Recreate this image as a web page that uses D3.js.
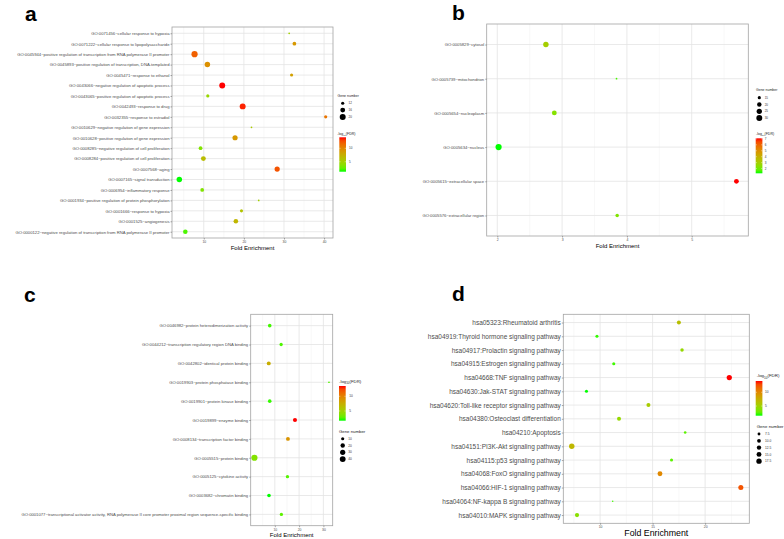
<!DOCTYPE html>
<html>
<head>
<meta charset="utf-8">
<script src="https://cdn.jsdelivr.net/npm/d3@7"></script>
<style>
body { margin: 0; background: #fff; }
svg { font-family: "Liberation Sans", Arial, sans-serif; }
</style>
</head>
<body>
<svg id="fig" width="784" height="539"></svg>
<script>
// enrichment bubble charts, four panels (BP, CC, MF, KEGG)

// panel a - biological process
var aTerms = [
    "GO:0071456~cellular response to hypoxia",
    "GO:0071222~cellular response to lipopolysaccharide",
    "GO:0045944~positive regulation of transcription from RNA polymerase II promoter",
    "GO:0045893~positive regulation of transcription, DNA-templated",
    "GO:0045471~response to ethanol",
    "GO:0043066~negative regulation of apoptotic process",
    "GO:0043065~positive regulation of apoptotic process",
    "GO:0042493~response to drug",
    "GO:0032355~response to estradiol",
    "GO:0010629~negative regulation of gene expression",
    "GO:0010628~positive regulation of gene expression",
    "GO:0008285~negative regulation of cell proliferation",
    "GO:0008284~positive regulation of cell proliferation",
    "GO:0007568~aging",
    "GO:0007165~signal transduction",
    "GO:0006954~inflammatory response",
    "GO:0001934~positive regulation of protein phosphorylation",
    "GO:0001666~response to hypoxia",
    "GO:0001525~angiogenesis",
    "GO:0000122~negative regulation of transcription from RNA polymerase II promoter"
];
var aFold = [31.3, 32.6, 7.7, 10.9, 31.9, 14.6, 11.0, 19.7, 40.4, 21.9, 17.8, 9.2, 9.9, 28.3, 3.9, 9.6, 23.7, 19.4, 18.0, 5.4];
var aCount = [11, 13, 21, 18, 12, 20, 12, 20, 12, 11, 17, 13, 16, 17, 18, 13, 11, 12, 15, 15];
var aLogFdr = [5.0, 9.0, 12.0, 9.5, 8.5, 14.1, 4.5, 13.8, 11.0, 5.5, 9.0, 3.5, 6.5, 12.5, 1.3, 3.5, 5.0, 6.0, 7.0, 2.0];
var aXTicks = [10, 20, 30, 40];
var aSizeBreaks = [12, 16, 20];
var aColorBreaks = [5, 10];

// panel b - cellular component
var bTerms = [
    "GO:0005829~cytosol",
    "GO:0005739~mitochondrion",
    "GO:0005654~nucleoplasm",
    "GO:0005634~nucleus",
    "GO:0005615~extracellular space",
    "GO:0005576~extracellular region"
];
var bFold = [2.75, 3.84, 2.88, 2.02, 5.69, 3.85];
var bCount = [26, 13, 22, 32, 22, 16];
var bLogFdr = [3.0, 1.5, 2.3, 1.2, 7.1, 2.2];
var bXTicks = [2, 3, 4, 5];
var bSizeBreaks = [15, 20, 25, 30];
var bColorBreaks = [2, 3, 4, 5, 6, 7];

// panel c - molecular function
var cTerms = [
    "GO:0046982~protein heterodimerization activity",
    "GO:0044212~transcription regulatory region DNA binding",
    "GO:0042802~identical protein binding",
    "GO:0019903~protein phosphatase binding",
    "GO:0019901~protein kinase binding",
    "GO:0019899~enzyme binding",
    "GO:0008134~transcription factor binding",
    "GO:0005515~protein binding",
    "GO:0005125~cytokine activity",
    "GO:0003682~chromatin binding",
    "GO:0001077~transcriptional activator activity, RNA polymerase II core promoter proximal region sequence-specific binding"
];
var cFold = [7.9, 12.6, 7.5, 32.3, 7.9, 18.3, 15.4, 1.6, 15.2, 7.6, 12.7];
var cCount = [13, 11, 16, 6, 13, 17, 15, 46, 11, 13, 11];
var cLogFdr = [2.2, 2.4, 7.5, 2.5, 2.0, 13.5, 9.0, 3.8, 2.5, 1.7, 2.7];
var cXTicks = [10, 20, 30];
var cSizeBreaks = [10, 20, 30, 40];
var cColorBreaks = [5, 10];

// panel d - KEGG pathways
var dTerms = [
    "hsa05323:Rheumatoid arthritis",
    "hsa04919:Thyroid hormone signaling pathway",
    "hsa04917:Prolactin signaling pathway",
    "hsa04915:Estrogen signaling pathway",
    "hsa04668:TNF signaling pathway",
    "hsa04630:Jak-STAT signaling pathway",
    "hsa04620:Toll-like receptor signaling pathway",
    "hsa04380:Osteoclast differentiation",
    "hsa04210:Apoptosis",
    "hsa04151:PI3K-Akt signaling pathway",
    "hsa04115:p53 signaling pathway",
    "hsa04068:FoxO signaling pathway",
    "hsa04066:HIF-1 signaling pathway",
    "hsa04064:NF-kappa B signaling pathway",
    "hsa04010:MAPK signaling pathway"
];
var dFold = [17.5, 9.7, 17.8, 11.3, 22.3, 8.7, 14.6, 11.8, 18.1, 7.3, 16.8, 15.7, 23.4, 11.2, 7.8];
var dCount = [11, 8, 9, 8, 17, 8, 11, 11, 7, 18, 8, 15, 16, 6, 12];
var dLogFdr = [6.5, 1.8, 4.5, 2.0, 14.1, 1.5, 5.5, 4.5, 2.5, 7.0, 2.5, 10.0, 12.5, 2.0, 4.0];
var dXTicks = [10, 15, 20];
var dSizeBreaks = [7.5, 10, 12.5, 15, 17.5];
var dColorBreaks = [5, 10];

var svg = d3.select("#fig");
var defs = svg.append("defs");

function drawPanel(p) {

    var g = svg.append("g");
    var box = p.box;

    // ggplot style 5% expansion of the continuous axis
    var ext = d3.extent(p.fold), pad = (ext[1] - ext[0]) * 0.05;
    var x = d3.scaleLinear().domain([ext[0] - pad, ext[1] + pad]).range([box[0], box[2]]);
    var y = d3.scalePoint().domain(p.terms).range([box[1], box[3]]).padding(0.6);

    var color = d3.scaleLinear()
        .domain(d3.extent(p.logFdr))
        .range(["#00ff00", "#ff0000"])
        .interpolate(d3.interpolateLab);

    var sNorm = d3.scaleLinear().domain(d3.extent(p.count)).range([0, 1]);
    var rScale = d3.scaleLinear().domain([0, 1]).range([p.rMax * 0.28, p.rMax]);
    var radius = function(v) { return rScale(Math.sqrt(Math.max(0, sNorm(v)))); };

    // minor breaks half way between majors
    var step = p.xTicks[1] - p.xTicks[0];
    var minor = [];
    for (var m = p.xTicks[0] - step / 2; m <= x.domain()[1]; m += step) {
        if (m >= x.domain()[0]) minor.push(m);
    }

    g.selectAll(".minor").data(minor).enter().append("line")
        .attr("x1", function(d) { return x(d); }).attr("x2", function(d) { return x(d); })
        .attr("y1", box[1]).attr("y2", box[3])
        .attr("stroke", "#f0f0f0").attr("stroke-width", 0.5);
    g.selectAll(".majorx").data(p.xTicks).enter().append("line")
        .attr("x1", function(d) { return x(d); }).attr("x2", function(d) { return x(d); })
        .attr("y1", box[1]).attr("y2", box[3])
        .attr("stroke", "#e3e3e3").attr("stroke-width", 0.8);
    g.selectAll(".majory").data(p.terms).enter().append("line")
        .attr("x1", box[0]).attr("x2", box[2])
        .attr("y1", function(d) { return y(d); }).attr("y2", function(d) { return y(d); })
        .attr("stroke", "#e3e3e3").attr("stroke-width", 0.8);

    // points
    var rows = p.terms.map(function(t, i) {
        return { term: t, fold: p.fold[i], count: p.count[i], fdr: p.logFdr[i] };
    });
    g.selectAll(".pt").data(rows).enter().append("circle")
        .attr("cx", function(d) { return x(d.fold); })
        .attr("cy", function(d) { return y(d.term); })
        .attr("r", function(d) { return radius(d.count); })
        .attr("fill", function(d) { return color(d.fdr); });

    g.append("rect")
        .attr("x", box[0]).attr("y", box[1])
        .attr("width", box[2] - box[0]).attr("height", box[3] - box[1])
        .attr("fill", "none").attr("stroke", "#a3a3a3").attr("stroke-width", 0.8);

    // axes
    var xAxis = g.append("g")
        .attr("transform", "translate(0," + box[3] + ")")
        .call(d3.axisBottom(x).tickValues(p.xTicks).tickFormat(function(d) { return d; })
            .tickSize(1.5).tickPadding(1.2));
    var yAxis = g.append("g")
        .attr("transform", "translate(" + box[0] + ",0)")
        .call(d3.axisLeft(y).tickSize(1.5).tickPadding(1));
    [xAxis, yAxis].forEach(function(a) {
        a.select(".domain").remove();
        a.attr("font-family", null);
        a.selectAll("line").attr("stroke", "#555").attr("stroke-width", 0.5);
        a.selectAll("text").attr("fill", "#4d4d4d");
    });
    xAxis.attr("font-size", p.tickFont);
    yAxis.attr("font-size", p.labelFont);

    g.append("text")
        .attr("x", (box[0] + box[2]) / 2).attr("y", p.titleY)
        .attr("text-anchor", "middle").attr("font-size", p.titleFont)
        .attr("fill", "#000")
        .text("Fold Enrichment");

    g.append("text")
        .attr("x", p.letter[0]).attr("y", p.letter[1])
        .attr("font-size", 21).attr("font-weight", "bold")
        .text(p.name);

    // size legend
    var S = p.sizeLegend;
    g.append("text").attr("x", S.x).attr("y", S.titleY)
        .attr("font-size", p.legFont).attr("fill", "#222").text("Gene number");
    p.sizeBreaks.forEach(function(b, i) {
        var cy = S.y0 + i * 6.8;
        g.append("circle").attr("cx", S.dotX).attr("cy", cy).attr("r", radius(b)).attr("fill", "#000");
        g.append("text").attr("x", S.labX).attr("y", cy).attr("dy", "0.35em")
            .attr("font-size", p.legLabFont).attr("fill", "#333")
            .text(p.sizeLabels ? p.sizeLabels[i] : b);
    });

    // colour bar
    var C = p.colorLegend;
    var t = g.append("text").attr("x", C.x).attr("y", C.titleY)
        .attr("font-size", p.legFont).attr("fill", "#222");
    t.append("tspan").text("-log");
    t.append("tspan").attr("font-size", p.legFont * 0.7).attr("dy", p.legFont * 0.3).text("10");
    t.append("tspan").attr("dy", -p.legFont * 0.3).text("(FDR)");

    var gid = "grad_" + p.name;
    var grad = defs.append("linearGradient").attr("id", gid)
        .attr("x1", 0).attr("y1", 1).attr("x2", 0).attr("y2", 0);
    d3.range(0, 1.0001, 0.1).forEach(function(f) {
        var dom = color.domain();
        grad.append("stop").attr("offset", f)
            .attr("stop-color", color(dom[0] + f * (dom[1] - dom[0])));
    });
    g.append("rect").attr("x", C.barX).attr("y", C.top)
        .attr("width", 6.7).attr("height", C.bottom - C.top)
        .attr("fill", "url(#" + gid + ")");
    var cy = d3.scaleLinear().domain(color.domain()).range([C.bottom, C.top]);
    p.colorBreaks.forEach(function(b) {
        g.append("line").attr("x1", C.barX).attr("x2", C.barX + 1.3)
            .attr("y1", cy(b)).attr("y2", cy(b)).attr("stroke", "#fff").attr("stroke-width", 0.4);
        g.append("line").attr("x1", C.barX + 5.4).attr("x2", C.barX + 6.7)
            .attr("y1", cy(b)).attr("y2", cy(b)).attr("stroke", "#fff").attr("stroke-width", 0.4);
        g.append("text").attr("x", C.labX).attr("y", cy(b)).attr("dy", "0.35em")
            .attr("font-size", p.legLabFont).attr("fill", "#333").text(b);
    });
}

drawPanel({
    name: "a", terms: aTerms, fold: aFold, count: aCount, logFdr: aLogFdr,
    xTicks: aXTicks, sizeBreaks: aSizeBreaks, colorBreaks: aColorBreaks,
    box: [172, 27, 333, 238], labelFont: 4.2, tickFont: 3.4, titleFont: 6, titleY: 249.5,
    rMax: 3.1, letter: [25, 21], legFont: 3.5, legLabFont: 3,
    sizeLegend: { x: 337.5, titleY: 97, dotX: 342.7, labX: 348.5, y0: 103.3 },
    colorLegend: { x: 337.3, titleY: 134.5, barX: 339.3, top: 137.3, bottom: 171.7, labX: 349 }
});

drawPanel({
    name: "b", terms: bTerms, fold: bFold, count: bCount, logFdr: bLogFdr,
    xTicks: bXTicks, sizeBreaks: bSizeBreaks, colorBreaks: bColorBreaks,
    box: [486.7, 24, 748.3, 236], labelFont: 4.2, tickFont: 3.4, titleFont: 6, titleY: 247.5,
    rMax: 3.1, letter: [452, 20], legFont: 3.5, legLabFont: 3,
    sizeLegend: { x: 756, titleY: 91.2, dotX: 759.3, labX: 764.7, y0: 97.7 },
    colorLegend: { x: 756, titleY: 134.5, barX: 755.7, top: 138.3, bottom: 173.3, labX: 764.7 }
});

drawPanel({
    name: "c", terms: cTerms, fold: cFold, count: cCount, logFdr: cLogFdr,
    xTicks: cXTicks, sizeBreaks: cSizeBreaks, colorBreaks: cColorBreaks,
    box: [250.7, 314.3, 332.7, 525.7], labelFont: 4.2, tickFont: 3.4, titleFont: 6, titleY: 537,
    rMax: 3.1, letter: [24, 302], legFont: 4.3, legLabFont: 3.2,
    sizeLegend: { x: 339, titleY: 432.5, dotX: 342.7, labX: 348.3, y0: 438.7 },
    colorLegend: { x: 339, titleY: 382.5, barX: 339, top: 386, bottom: 420.7, labX: 349.3 }
});

drawPanel({
    name: "d", terms: dTerms, fold: dFold, count: dCount, logFdr: dLogFdr,
    xTicks: dXTicks, sizeBreaks: dSizeBreaks, colorBreaks: dColorBreaks,
    sizeLabels: ["7.5", "10.0", "12.5", "15.0", "17.5"],
    box: [563.3, 314.3, 749.3, 523.3], labelFont: 6.5, tickFont: 3.4, titleFont: 8.8, titleY: 536.3,
    rMax: 2.7, letter: [452, 301], legFont: 4.4, legLabFont: 3.2,
    sizeLegend: { x: 756.7, titleY: 428.2, dotX: 759, labX: 765, y0: 434 },
    colorLegend: { x: 756.7, titleY: 377.2, barX: 755.7, top: 381, bottom: 415.7, labX: 765 }
});
</script>
</body>
</html>
